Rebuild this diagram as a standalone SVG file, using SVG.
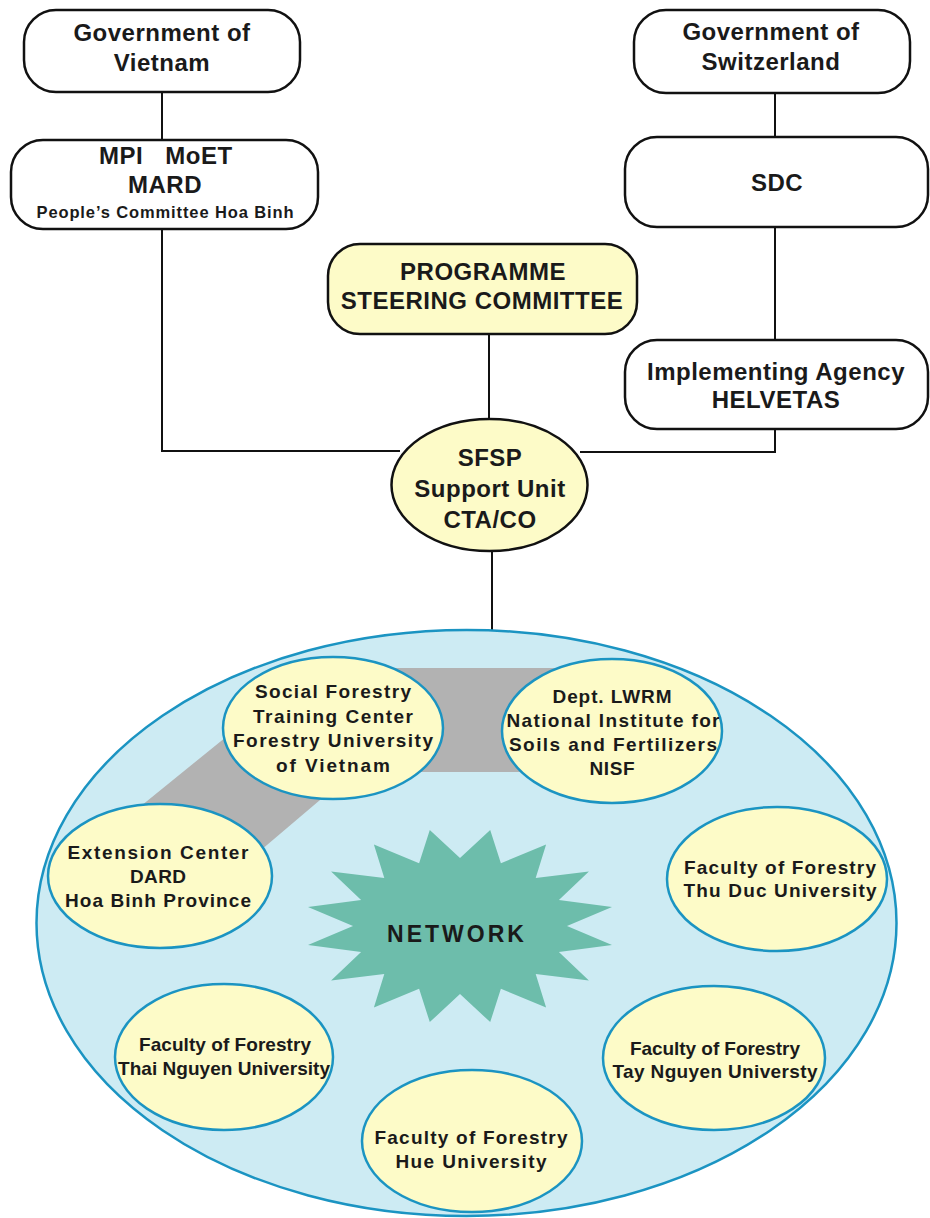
<svg xmlns="http://www.w3.org/2000/svg" width="930" height="1218" viewBox="0 0 930 1218">
<style>
text{font-family:"Liberation Sans",Arial,Helvetica,sans-serif;font-weight:bold;fill:#1a1a1a;text-anchor:middle}
.big{font-size:24px;letter-spacing:0.5px}
.sm{font-size:19px}
.box{fill:#ffffff;stroke:#111;stroke-width:2.5}
.ybox{fill:#fdfbc8;stroke:#111;stroke-width:2.5}
.mem{fill:#fdfbc8;stroke:#1b94c2;stroke-width:2.5}
.con{fill:none;stroke:#111;stroke-width:2}
</style>
<g id="connectors">
<path class="con" d="M162,92 V140"/>
<path class="con" d="M162,229 V451 H400"/>
<path class="con" d="M775,93 V137"/>
<path class="con" d="M775,227 V340"/>
<path class="con" d="M775,429 V452 H580"/>
<path class="con" d="M489,334 V421"/>
<path class="con" d="M492,550 V632"/>
</g>
<g id="gov-vietnam">
<rect class="box" x="24" y="10" width="276" height="82" rx="32"/>
<text class="big" x="162" y="41">Government of</text>
<text class="big" x="162" y="71">Vietnam</text>
</g>
<g id="ministries">
<rect class="box" x="11" y="140" width="307" height="89" rx="32"/>
<text class="big" x="165" y="164"><tspan x="121">MPI</tspan><tspan x="199">MoET</tspan></text>
<text class="big" x="165" y="193">MARD</text>
<text x="165" y="218" style="font-size:16.5px" textLength="257" lengthAdjust="spacing">People’s Committee Hoa Binh</text>
</g>
<g id="gov-switzerland">
<rect class="box" x="634" y="10" width="276" height="83" rx="32"/>
<text class="big" x="771" y="40">Government of</text>
<text class="big" x="771" y="70">Switzerland</text>
</g>
<g id="sdc">
<rect class="box" x="625" y="137" width="303" height="90" rx="32"/>
<text class="big" x="777" y="191">SDC</text>
</g>
<g id="helvetas">
<rect class="box" x="625" y="340" width="303" height="89" rx="32"/>
<text class="big" x="776" y="380">Implementing Agency</text>
<text class="big" x="776" y="408">HELVETAS</text>
</g>
<g id="steering-committee">
<rect class="ybox" x="328" y="244" width="309" height="90" rx="32"/>
<text class="big" x="483" y="280">PROGRAMME</text>
<text class="big" x="482" y="309">STEERING COMMITTEE</text>
</g>
<g id="sfsp">
<ellipse class="ybox" cx="489.5" cy="485" rx="98" ry="66"/>
<text class="big" x="490" y="466">SFSP</text>
<text class="big" x="490" y="497">Support Unit</text>
<text class="big" x="490" y="528">CTA/CO</text>
</g>
<g id="network">
<ellipse cx="466.5" cy="923" rx="430" ry="293" fill="#cdebf3" stroke="#1b94c2" stroke-width="2.5"/>
<polygon points="120,823 311,668 600,668 600,772 353,772 240,868" fill="#b2b2b2"/>
<polygon fill="#6dbdab" points="567,926 612,906.9 558.9,900 588.9,871.6 535.7,877.9 546.1,844.5 500.9,863.2 490.2,829.9 460,858 429.8,829.9 419.1,863.2 373.9,844.5 384.3,877.9 331.1,871.6 361.1,900 308,906.9 353,926 308,945.1 361.1,952 331.1,980.4 384.3,974.1 373.9,1007.5 419.1,988.8 429.8,1022.1 460,994 490.2,1022.1 500.9,988.8 546.1,1007.5 535.7,974.1 588.9,980.4 558.9,952 612,945.1"/>
<text x="457" y="942" style="font-size:23px;letter-spacing:3px">NETWORK</text>
</g>
<g id="social-forestry">
<ellipse class="mem" cx="333" cy="728" rx="110" ry="71"/>
<text class="sm" x="333" y="698" textLength="156" lengthAdjust="spacing">Social Forestry</text>
<text class="sm" x="333" y="723" textLength="160" lengthAdjust="spacing">Training Center</text>
<text class="sm" x="333" y="747" textLength="200" lengthAdjust="spacing">Forestry University</text>
<text class="sm" x="333" y="772" textLength="114" lengthAdjust="spacing">of Vietnam</text>
</g>
<g id="nisf">
<ellipse class="mem" cx="612" cy="731" rx="110" ry="72"/>
<text class="sm" x="612" y="703" textLength="119" lengthAdjust="spacing">Dept. LWRM</text>
<text class="sm" x="613" y="727" textLength="213" lengthAdjust="spacing">National Institute for</text>
<text class="sm" x="613" y="751" textLength="208" lengthAdjust="spacing">Soils and Fertilizers</text>
<text class="sm" x="612" y="775" textLength="45" lengthAdjust="spacing">NISF</text>
</g>
<g id="extension-center">
<ellipse class="mem" cx="160" cy="876" rx="112" ry="72"/>
<text class="sm" x="158" y="859" textLength="181" lengthAdjust="spacing">Extension Center</text>
<text class="sm" x="158" y="883" textLength="56" lengthAdjust="spacing">DARD</text>
<text class="sm" x="158" y="907" textLength="186" lengthAdjust="spacing">Hoa Binh Province</text>
</g>
<g id="thu-duc">
<ellipse class="mem" cx="777" cy="879" rx="110" ry="72"/>
<text class="sm" x="780" y="874" textLength="192" lengthAdjust="spacing">Faculty of Forestry</text>
<text class="sm" x="780" y="897" textLength="193" lengthAdjust="spacing">Thu Duc University</text>
</g>
<g id="thai-nguyen">
<ellipse class="mem" cx="224" cy="1057" rx="109" ry="73"/>
<text class="sm" x="225" y="1051" textLength="172" lengthAdjust="spacing">Faculty of Forestry</text>
<text class="sm" x="224" y="1075" textLength="212" lengthAdjust="spacing">Thai Nguyen University</text>
</g>
<g id="tay-nguyen">
<ellipse class="mem" cx="714" cy="1058" rx="111" ry="72"/>
<text class="sm" x="715" y="1055" textLength="170" lengthAdjust="spacing">Faculty of Forestry</text>
<text class="sm" x="715" y="1078" textLength="205" lengthAdjust="spacing">Tay Nguyen Universty</text>
</g>
<g id="hue">
<ellipse class="mem" cx="472" cy="1141" rx="110" ry="71"/>
<text class="sm" x="471" y="1144" textLength="193" lengthAdjust="spacing">Faculty of Forestry</text>
<text class="sm" x="471" y="1168" textLength="151" lengthAdjust="spacing">Hue University</text>
</g>
</svg>
